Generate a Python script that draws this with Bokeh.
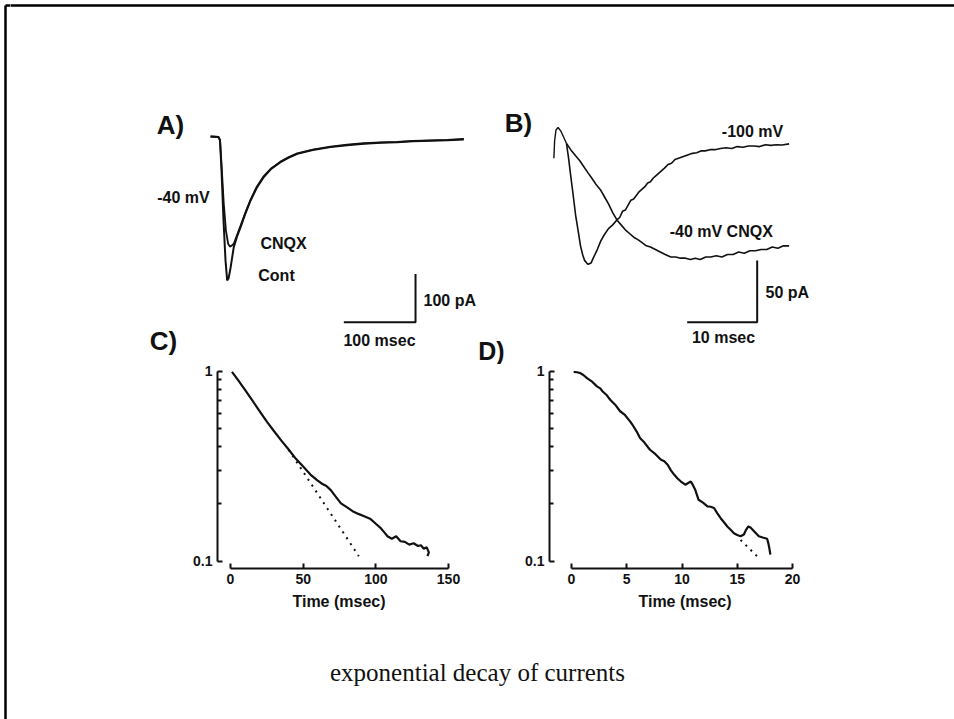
from bokeh.plotting import figure
from bokeh.layouts import column, row
from bokeh.models import Range1d, Label, FixedTicker, CustomJSTickFormatter
from bokeh.embed import file_html
from bokeh.resources import INLINE

# ---------------- data ----------------
# Panel A: synaptic currents at -40 mV (time in ms, current in pA)
a_time_cont = [-12.5, -1.5, 0.7, 2.8, 5.6, 8.4, 10.7, 12.6, 15.3, 19.9, 24.5, 29.3, 36, 43.2, 52,
               61.8, 72, 85.1, 96, 108.4, 130, 154.8, 178, 201.3, 225, 247.8, 270, 294.3, 318, 340.7]
a_curr_cont = [0, -1, -8, -70, -174, -257, -298, -294, -273, -229, -207, -188, -160, -133, -106,
               -84, -67, -53, -44, -36, -28, -22, -18, -15, -13, -12, -10, -9, -8, -6]
a_time_cnqx = [-12.5, -1.5, 0.7, 3.0, 6.0, 9.0, 12.0, 14.5, 17.0, 19.9, 24.5, 29.3, 36, 43.2, 52,
               61.8, 72, 85.1, 96, 108.4, 130, 154.8, 178, 201.3, 225, 247.8, 270, 294.3, 318, 340.7]
a_curr_cnqx = [0, -1, -7, -62, -140, -195, -222, -228, -226, -222, -204, -185, -158, -131, -104,
               -82, -66, -52, -43, -35, -27, -21, -17, -14, -12, -11, -9, -8, -7, -5]
a_bar_ms, a_bar_pa = 100, 100

# Panel B: -100 mV (fast) and -40 mV in CNQX (slow)
b_time_fast = [0.0, 0.3, 0.6, 1.0, 1.3, 1.7, 2.0, 2.3, 2.6, 2.9,
               3.1, 3.5, 3.9, 4.4, 4.9, 5.4, 6.0, 6.6, 7.2, 7.6,
               8.0, 8.4, 8.8, 9.2, 9.6, 10.0, 10.4, 10.8, 11.2, 11.6,
               12.0, 12.4, 12.8, 13.2, 13.6, 14.0, 14.5, 15.0, 15.5, 16.0,
               16.5, 17.0, 17.5, 18.0, 18.6, 19.2, 19.8, 20.5, 21.2, 22.0,
               22.8, 23.6, 24.4, 25.2, 26.0, 26.8, 27.6, 28.4, 29.2, 30.0,
               30.8, 31.8]
b_curr_fast = [0, -12, -26, -44, -58, -72, -83, -90, -95, -97,
               -98, -97, -92, -86, -79, -74, -69, -66, -62, -60,
               -55, -54, -50, -46, -45, -42, -39, -37, -35, -32,
               -31, -28, -26, -24, -22, -20, -17, -16, -13, -12,
               -11, -10, -9, -8, -7.5, -6, -6, -5, -5, -4,
               -3.5, -4, -2.5, -3, -2, -2, -2.5, -1, -1.5, -1,
               -1.2, -0.3]
b_time_slow = [0.0, 0.6, 1.3, 1.9, 2.5, 3.1, 3.6, 4.2, 4.9, 5.4,
               6.0, 6.6, 7.2, 7.8, 8.4, 9.0, 9.6, 10.2, 10.7, 11.4,
               12.0, 12.7, 13.4, 14.1, 14.9, 15.6, 16.3, 17.0, 17.7, 18.4,
               19.1, 19.9, 20.6, 21.4, 22.2, 23.0, 23.8, 24.6, 25.4, 26.2,
               27.0, 27.8, 28.6, 29.4, 30.2, 31.0, 31.8]
b_curr_slow = [0, -5, -10, -14, -19, -24, -28, -33, -38, -43,
               -49, -56, -62, -66, -70, -73, -76, -78, -80, -83,
               -84, -86, -88, -90, -92, -92, -93, -93, -94, -93,
               -94, -92, -92, -91, -92, -90, -90, -88, -89, -87,
               -87, -86, -86, -84, -85, -83, -83]
b_time_artifact = [-1.8, -1.7, -1.5, -1.2, -0.8, -0.4, 0.0]
b_curr_artifact = [-12, 2, 11, 13, 10, 5, 0]
b_bar_ms, b_bar_pa = 10, 50

# Panel C: normalised NMDA current decay (log scale)
c_time = [1, 5, 10, 15, 20, 25, 30, 35, 40, 45, 50, 55, 60, 63, 66, 69, 72, 76, 80, 84, 88, 92,
          96, 100, 103, 106, 108, 111, 114, 117, 120, 123, 126, 129, 131, 133, 135, 136.5, 135.5]
c_inorm = [0.99, 0.90, 0.796, 0.70, 0.615, 0.541, 0.482, 0.430, 0.386, 0.345, 0.314, 0.285, 0.265,
           0.255, 0.248, 0.236, 0.220, 0.201, 0.192, 0.183, 0.177, 0.172, 0.167, 0.157, 0.150,
           0.141, 0.135, 0.131, 0.135, 0.127, 0.126, 0.122, 0.124, 0.120, 0.121, 0.116, 0.118,
           0.111, 0.106]
c_fit_time = [40, 88.3]
c_fit_inorm = [0.385, 0.106]
c_xticks = [0, 50, 100, 150]

# Panel D: normalised non-NMDA current decay (log scale)
d_time = [0.2, 0.5, 0.8, 1.1, 1.4, 1.8, 2.3, 2.6, 2.8, 3.2, 3.5, 4.0, 4.4, 4.8, 5.3, 5.6, 5.9, 6.2,
          6.6, 7.1, 7.6, 8.1, 8.4, 8.7, 9.0, 9.3, 9.6, 9.9, 10.3, 10.6, 10.8, 11.0, 11.2, 11.5,
          11.9, 12.3, 12.6, 12.9, 13.2, 13.5, 13.8, 14.1, 14.4, 14.7, 15.0, 15.3, 15.6, 15.8, 16.0,
          16.2, 16.5, 16.95, 17.3, 17.7, 17.8, 17.9, 18.0]
d_inorm = [0.99, 0.985, 0.975, 0.95, 0.918, 0.885, 0.83, 0.81, 0.782, 0.745, 0.706, 0.66, 0.614,
           0.59, 0.543, 0.512, 0.48, 0.444, 0.42, 0.385, 0.365, 0.341, 0.335, 0.321, 0.30, 0.284,
           0.272, 0.262, 0.252, 0.258, 0.262, 0.25, 0.237, 0.210, 0.203, 0.194, 0.193, 0.190,
           0.178, 0.168, 0.160, 0.152, 0.146, 0.140, 0.137, 0.135, 0.138, 0.146, 0.152, 0.150,
           0.144, 0.135, 0.133, 0.131, 0.125, 0.117, 0.108]
d_fit_time = [15.3, 17.0]
d_fit_inorm = [0.129, 0.103]
d_xticks = [0, 5, 10, 15, 20]

log_major = [0.1, 1]
log_minor = [0.2, 0.3, 0.4, 0.5, 0.6, 0.7, 0.8, 0.9]

# ---------------- layout constants (page pixels) ----------------
INK = "#111111"
SANS = "Liberation Sans"
PAGE_W, PAGE_H = 954, 719
STRIP_W = 10
TOP_H, MID_H, BOT_H = 364, 250, 105
BORDER = 5


def blank(width, height, xr, yr):
    p = figure(width=width, height=height, x_range=xr, y_range=yr,
               x_axis_location=None, y_axis_location=None, toolbar_location=None,
               output_backend="svg", min_border=0, outline_line_color=None)
    p.grid.visible = False
    return p


def lab(p, x, y, text, size, align="center", bold=False, font=SANS, **kw):
    p.add_layout(Label(x=x, y=y, text=text, text_font=font, text_font_size=f"{size}px",
                       text_font_style="bold" if bold else "normal", text_color=INK,
                       text_align=align, text_baseline="middle", **kw))


# ---------- left strip: slide frame edge over full height ----------
strip = blank(STRIP_W, PAGE_H, Range1d(0, STRIP_W), Range1d(PAGE_H, 0))
strip.line([BORDER, BORDER], [BORDER, PAGE_H], line_color="black", line_width=2.5)
strip.line([BORDER, STRIP_W], [BORDER, BORDER], line_color="black", line_width=2.5)

# ---------- top: panels A and B ----------
top = blank(PAGE_W - STRIP_W, TOP_H, Range1d(STRIP_W, PAGE_W), Range1d(TOP_H, 0))
# A: t=0 at x=219, 0.717 px/ms ; I=0 at y=136, 0.483 px/pA
ax0, axs, ay0, ays = 219, 0.717, 136, 0.483
# B: t=0 at x=566, 7 px/ms ; I=0 at y=143, 1.233 px/pA
bx0, bxs, by0, bys = 566, 7.0, 143, 1.233
top.extra_x_ranges = {
    "A": Range1d((STRIP_W - ax0) / axs, (PAGE_W - ax0) / axs),
    "B": Range1d((STRIP_W - bx0) / bxs, (PAGE_W - bx0) / bxs),
}
top.extra_y_ranges = {
    "A": Range1d(-(TOP_H - ay0) / ays, ay0 / ays),
    "B": Range1d(-(TOP_H - by0) / bys, by0 / bys),
}
top.line([STRIP_W - 1, PAGE_W], [BORDER, BORDER], line_color="black", line_width=2.5)

top.line(a_time_cont, a_curr_cont, x_range_name="A", y_range_name="A", line_color=INK, line_width=2)
top.line(a_time_cnqx, a_curr_cnqx, x_range_name="A", y_range_name="A", line_color=INK, line_width=1.8)
a_bar_t, a_bar_i = 273.4, -384.5
top.line([a_bar_t - a_bar_ms, a_bar_t, a_bar_t], [a_bar_i, a_bar_i, a_bar_i + a_bar_pa],
         x_range_name="A", y_range_name="A", line_color=INK, line_width=2)

top.line(b_time_fast, b_curr_fast, x_range_name="B", y_range_name="B", line_color=INK, line_width=1.6)
top.line(b_time_slow, b_curr_slow, x_range_name="B", y_range_name="B", line_color=INK, line_width=1.6)
top.line(b_time_artifact, b_curr_artifact, x_range_name="B", y_range_name="B", line_color=INK, line_width=1.4)
b_bar_t, b_bar_i = 27.24, -144.9
top.line([b_bar_t - b_bar_ms, b_bar_t, b_bar_t], [b_bar_i, b_bar_i, b_bar_i + b_bar_pa],
         x_range_name="B", y_range_name="B", line_color=INK, line_width=2)

lab(top, 170, 124, "A)", 26, bold=True)
lab(top, 518, 122, "B)", 26, bold=True)
lab(top, 163, 340, "C)", 26, bold=True)
lab(top, 491, 350, "D)", 25, bold=True)
lab(top, 183, 197, "-40 mV", 16, bold=True)
lab(top, 283, 243, "CNQX", 16, bold=True)
lab(top, 276, 275, "Cont", 16, bold=True)
lab(top, 423, 300, "100 pA", 16, align="left", bold=True)
lab(top, 379, 340, "100 msec", 16, bold=True)
lab(top, 752, 131, "-100 mV", 16, bold=True)
lab(top, 723, 231, "-40 mV  CNQX", 16, bold=True)
lab(top, 765, 292, "50 pA", 16, align="left", bold=True)
lab(top, 723, 337, "10 msec", 16, bold=True)


# ---------- middle: panels C and D ----------
FRAME_BOTTOM = 568
Y1_PX, Y01_PX = 370.5, 560.5
PER_DEC = Y01_PX - Y1_PX


def log_y(py):
    return 10 ** (-(py - Y1_PX) / PER_DEC)


def decay_panel(width, left_b, right_b, x0_px, x_per, frame_left_px, frame_right_px,
                ticks, fit_t, fit_i, t, i, sub, ylab_px):
    top_px = TOP_H + 2
    yr = Range1d(log_y(FRAME_BOTTOM), log_y(top_px))
    xr = Range1d((frame_left_px - x0_px) / x_per, (frame_right_px - x0_px) / x_per)
    p = figure(width=width, height=MID_H, x_range=xr, y_range=yr, y_axis_type="log",
               toolbar_location=None, output_backend="svg", outline_line_color=None,
               min_border_left=left_b, min_border_right=right_b, min_border_top=2,
               min_border_bottom=TOP_H + MID_H - FRAME_BOTTOM)
    p.grid.visible = False
    p.line(t, i, line_color=INK, line_width=2.2)
    p.line(fit_t, fit_i, line_color=INK, line_width=2, line_dash="2 5")

    ya = p.yaxis[0]
    ya.ticker = FixedTicker(ticks=log_major, minor_ticks=log_minor)
    ya.formatter = CustomJSTickFormatter(code="return String(+tick.toPrecision(2));")
    ya.bounds = (log_major[0], log_major[-1])
    xa = p.xaxis[0]
    xa.ticker = FixedTicker(ticks=ticks)
    xa.bounds = (ticks[0], ticks[-1])
    xa.axis_label = "Time (msec)"
    xa.axis_label_text_font = SANS
    xa.axis_label_text_font_size = "16px"
    xa.axis_label_text_font_style = "bold"
    xa.axis_label_text_color = INK
    xa.axis_label_standoff = 6
    for a in (xa, ya):
        a.axis_line_width = 2
        a.axis_line_color = INK
        a.major_tick_line_width = 2
        a.major_tick_line_color = INK
        a.major_tick_in = 5
        a.major_tick_out = 0
        a.minor_tick_in = 4
        a.minor_tick_out = 0
        a.minor_tick_line_width = 2
        a.minor_tick_line_color = INK
        a.major_label_text_font = SANS
        a.major_label_text_font_size = "14px"
        a.major_label_text_font_style = "bold"
        a.major_label_text_color = INK
        a.major_label_standoff = 5
    xa.minor_tick_line_color = None

    lab(p, (ylab_px[0] - x0_px) / x_per, log_y(ylab_px[1]), "I", 18, bold=True)
    lab(p, (ylab_px[0] + 7 - x0_px) / x_per, log_y(ylab_px[1] + 6), sub, 9, align="left", bold=True)
    return p


# C: canvas spans page x 10..470 ; x=0 at 230, 150 at 448
cpan = decay_panel(460, 217 - STRIP_W, 10, 230, 218 / 150, 217, 460, c_xticks,
                   c_fit_time, c_fit_inorm, c_time, c_inorm, "NMDA", (156, 460))
# D: canvas spans page x 470..954 ; x=0 at 571, 20 at 792
dpan = decay_panel(484, 79, 134, 571, 221 / 20, 549, 820, d_xticks,
                   d_fit_time, d_fit_inorm, d_time, d_inorm, "non-NMDA", (479, 460))

# ---------- bottom: caption ----------
cap = blank(PAGE_W - STRIP_W, BOT_H, Range1d(STRIP_W, PAGE_W), Range1d(PAGE_H, TOP_H + MID_H))
lab(cap, 477, 672, "exponential decay of currents", 25, font="Liberation Serif")

right = column(top, row(cpan, dpan, spacing=0), cap, spacing=0)
layout = row(strip, right, spacing=0)
open("out.html", "w").write(file_html(layout, INLINE))
